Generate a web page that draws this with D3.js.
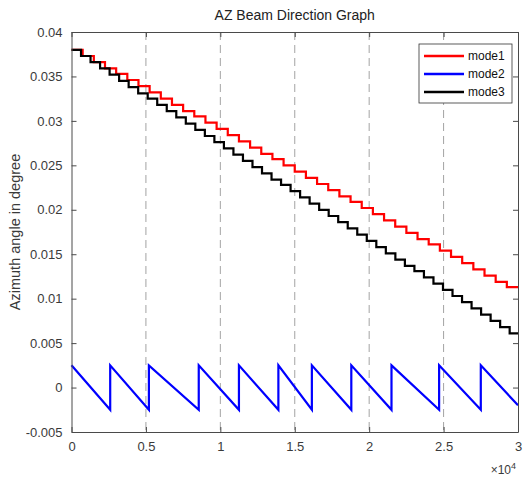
<!DOCTYPE html>
<html>
<head>
<meta charset="utf-8">
<script src="https://cdn.jsdelivr.net/npm/d3@7"></script>
<style>
  body { margin: 0; background: #fff; }
  svg { font-family: "Liberation Sans", Arial, sans-serif; }
</style>
</head>
<body>
<script>
// ---------------------------------------------------------------- data
var chartTitle = "AZ Beam Direction Graph"
var yLabel = "Azimuth angle in degree"
var seriesNames = ["mode1", "mode2", "mode3"]
var seriesColors = ["#ff0000", "#0000ff", "#000000"]

var xTicks = [0, 5000, 10000, 15000, 20000, 25000, 30000]
var xTickLabels = ["0", "0.5", "1", "1.5", "2", "2.5", "3"]
var yTicks = [0.04, 0.035, 0.03, 0.025, 0.02, 0.015, 0.01, 0.005, 0, -0.005]
var yTickLabels = ["0.04", "0.035", "0.03", "0.025", "0.02", "0.015", "0.01", "0.005", "0", "-0.005"]

// mode1: staircase, start x of each step and its level
var mode1X = [0, 750, 1500, 2250, 3000, 3750, 4500, 5250, 6000, 6750,
  7500, 8250, 9000, 9750, 10500, 11250, 12000, 12750, 13500, 14250,
  15000, 15750, 16500, 17250, 18000, 18750, 19500, 20250, 21000, 21750,
  22500, 23250, 24000, 24750, 25500, 26250, 27000, 27750, 28500, 29250]
var mode1Y = [0.0380, 0.0373, 0.0366, 0.0359, 0.0353, 0.0346, 0.0339, 0.0332, 0.0325, 0.0318,
  0.0311, 0.0305, 0.0298, 0.0291, 0.0284, 0.0277, 0.0270, 0.0263, 0.0257, 0.0250,
  0.0243, 0.0236, 0.0229, 0.0222, 0.0215, 0.0209, 0.0202, 0.0195, 0.0188, 0.0181,
  0.0174, 0.0167, 0.0161, 0.0154, 0.0147, 0.0140, 0.0133, 0.0126, 0.0119, 0.0113]

// mode3: staircase
var mode3X = [0, 640, 1280, 1920, 2560, 3200, 3840, 4480, 5120, 5760,
  6400, 7040, 7680, 8320, 8960, 9600, 10240, 10880, 11520, 12160,
  12800, 13440, 14080, 14720, 15360, 16000, 16640, 17280, 17920, 18560,
  19200, 19840, 20480, 21120, 21760, 22400, 23040, 23680, 24320, 24960,
  25600, 26240, 26880, 27520, 28160, 28800, 29440]
var mode3Y = [0.0380, 0.0373, 0.0366, 0.0359, 0.0352, 0.0345, 0.0338, 0.0331, 0.0325, 0.0318,
  0.0311, 0.0304, 0.0297, 0.0290, 0.0283, 0.0276, 0.0269, 0.0262, 0.0255, 0.0248,
  0.0241, 0.0234, 0.0228, 0.0221, 0.0214, 0.0207, 0.0200, 0.0193, 0.0186, 0.0179,
  0.0172, 0.0165, 0.0158, 0.0151, 0.0144, 0.0137, 0.0131, 0.0124, 0.0117, 0.0110,
  0.0103, 0.0096, 0.0089, 0.0082, 0.0075, 0.0068, 0.0061]

// mode2: sawtooth
var mode2X = [0, 2600, 2600, 5200, 5200, 8550, 8550, 11250, 11250, 13900, 13900,
  16150, 16150, 18800, 18800, 21500, 21500, 24700, 24700, 27500, 27500, 30000]
var mode2Y = [0.0025, -0.0025, 0.0025, -0.0025, 0.0025, -0.0025, 0.0025, -0.0025, 0.0025, -0.0025, 0.0025,
  -0.0025, 0.0025, -0.0025, 0.0025, -0.0025, 0.0025, -0.0025, 0.0025, -0.0025, 0.0025, -0.0020]

var xMax = 30000

// ---------------------------------------------------------------- setup
var width = 528, height = 480
var margin = {top: 32, right: 10, bottom: 48, left: 71.5}
var w = width - margin.left - margin.right
var h = height - margin.top - margin.bottom
var axisColor = "#4a4a4a"
var textColor = "#3a3a3a"

var svg = d3.select("body").append("svg")
  .attr("width", width)
  .attr("height", height)

var g = svg.append("g")
  .attr("transform", "translate(" + margin.left + "," + margin.top + ")")

var x = d3.scaleLinear().domain([0, xMax]).range([0, w])
var y = d3.scaleLinear().domain([-0.005, 0.04]).range([h, 0])

// dashed vertical grid
g.selectAll(".grid")
  .data(xTicks.slice(1, -1))
  .enter().append("line")
    .attr("class", "grid")
    .attr("x1", d => x(d)).attr("x2", d => x(d))
    .attr("y1", 0).attr("y2", h)
    .attr("stroke", "#8c8c8c")
    .attr("stroke-width", 0.8)
    .attr("stroke-dasharray", "8,5")

// ---------------------------------------------------------------- lines
function stairs(xs, ys) {
  var pts = xs.map((d, i) => ({x: d, y: ys[i]}))
  pts.push({x: xMax, y: ys[ys.length - 1]})
  return pts
}
function pairs(xs, ys) {
  return xs.map((d, i) => ({x: d, y: ys[i]}))
}

var stepLine = d3.line().x(d => x(d.x)).y(d => y(d.y)).curve(d3.curveStepAfter)
var plainLine = d3.line().x(d => x(d.x)).y(d => y(d.y))

var series = [
  {name: seriesNames[0], color: seriesColors[0], path: stepLine(stairs(mode1X, mode1Y))},
  {name: seriesNames[1], color: seriesColors[1], path: plainLine(pairs(mode2X, mode2Y))},
  {name: seriesNames[2], color: seriesColors[2], path: stepLine(stairs(mode3X, mode3Y))}
]

g.selectAll(".series")
  .data(series)
  .enter().append("path")
    .attr("class", "series")
    .attr("d", d => d.path)
    .attr("fill", "none")
    .attr("stroke", d => d.color)
    .attr("stroke-width", 2.2)
    .attr("stroke-linejoin", "miter")

// ---------------------------------------------------------------- axes
var tickLen = 5

var xAxis = g.append("g")
  .attr("transform", "translate(0," + h + ")")
  .call(d3.axisBottom(x).tickValues(xTicks).tickFormat((d, i) => xTickLabels[i]).tickSizeInner(-tickLen).tickSizeOuter(0).tickPadding(10))
var xTop = g.append("g")
  .call(d3.axisTop(x).tickValues(xTicks).tickFormat("").tickSizeInner(-tickLen).tickSizeOuter(0))
var yAxis = g.append("g")
  .call(d3.axisLeft(y).tickValues(yTicks).tickFormat((d, i) => yTickLabels[i]).tickSizeInner(-tickLen).tickSizeOuter(0).tickPadding(9))
var yRight = g.append("g")
  .attr("transform", "translate(" + w + ",0)")
  .call(d3.axisRight(y).tickValues(yTicks).tickFormat("").tickSizeInner(-tickLen).tickSizeOuter(0))

;[xAxis, xTop, yAxis, yRight].forEach(a => {
  a.select(".domain").attr("stroke", axisColor).attr("stroke-width", 1)
  a.selectAll(".tick line").attr("stroke", axisColor)
  a.selectAll(".tick text")
    .attr("fill", textColor)
    .style("font-size", "13px")
    .style("font-family", "'Liberation Sans', Arial, sans-serif")
})

// exponent label
var expo = g.append("text")
  .attr("x", w - 2)
  .attr("y", h + 42)
  .attr("text-anchor", "end")
  .attr("fill", textColor)
  .style("font-size", "12px")
expo.append("tspan").text("\u00d710")
expo.append("tspan").attr("dy", -5).style("font-size", "9px").text("4")

// title
svg.append("text")
  .attr("x", margin.left + w / 2)
  .attr("y", 20)
  .attr("text-anchor", "middle")
  .attr("fill", "#222")
  .style("font-size", "14px")
  .text(chartTitle)

// y label
svg.append("text")
  .attr("transform", "translate(20," + (margin.top + h / 2) + ") rotate(-90)")
  .attr("text-anchor", "middle")
  .attr("fill", textColor)
  .style("font-size", "14.5px")
  .text(yLabel)

// ---------------------------------------------------------------- legend
var legend = svg.append("g")
  .attr("transform", "translate(419,44)")

legend.append("rect")
  .attr("width", 93)
  .attr("height", 59)
  .attr("fill", "#fff")
  .attr("stroke", "#333")
  .attr("stroke-width", 0.8)

var items = legend.selectAll(".item")
  .data(series)
  .enter().append("g")
    .attr("class", "item")
    .attr("transform", (d, i) => "translate(0," + (12 + i * 18) + ")")

items.append("line")
  .attr("x1", 5).attr("x2", 45)
  .attr("stroke", d => d.color)
  .attr("stroke-width", 2.5)

items.append("text")
  .attr("x", 49)
  .attr("y", 4)
  .attr("fill", "#111")
  .style("font-size", "12px")
  .text(d => d.name)
</script>
</body>
</html>
